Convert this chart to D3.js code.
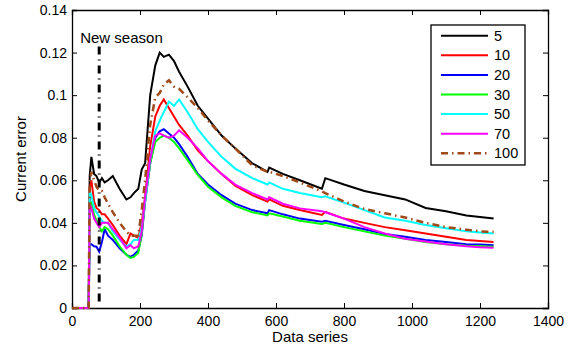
<!DOCTYPE html>
<html>
<head>
  <script src="https://d3js.org/d3.v7.min.js"></script>
  <style>
    body { margin: 0; background: #fff; }
    svg { font-family: "Liberation Sans", Arial, sans-serif; }
    .axis text { font-size: 14px; fill: #000; }
    .axis path, .axis line { stroke: #000; }
    .label { font-size: 15px; text-anchor: middle; }
  </style>
</head>
<body>
  <script>
    // x positions shared by all series
    var xs = [0, 49, 52, 57, 65, 72, 80, 88, 96, 106, 120, 140, 160, 172, 182, 195, 205, 215, 230, 245,
      258, 270, 285, 300, 315, 340, 370, 400, 440, 480, 530, 575, 580, 620, 670, 735, 745, 800, 860, 920,
      980, 1040, 1100, 1160, 1200, 1240];

    var s5 = [0, 0, 0.062, 0.071, 0.063, 0.062, 0.059, 0.061, 0.059, 0.060, 0.062, 0.056, 0.051, 0.052, 0.054, 0.056, 0.065, 0.068, 0.100, 0.114,
      0.120, 0.118, 0.119, 0.116, 0.111, 0.104, 0.095, 0.089, 0.081, 0.075, 0.068, 0.064, 0.066, 0.063, 0.060, 0.056, 0.061, 0.058, 0.055, 0.053,
      0.051, 0.047, 0.0455, 0.0435, 0.0428, 0.042];
    var s10 = [0, 0, 0.056, 0.060, 0.050, 0.047, 0.046, 0.044, 0.044, 0.042, 0.039, 0.034, 0.030, 0.035, 0.034, 0.033, 0.040, 0.052, 0.076, 0.090,
      0.095, 0.098, 0.094, 0.090, 0.086, 0.081, 0.074, 0.069, 0.063, 0.0575, 0.053, 0.050, 0.051, 0.048, 0.046, 0.0437, 0.0452, 0.042, 0.040, 0.038,
      0.0365, 0.035, 0.0335, 0.032, 0.0315, 0.031];
    var s20 = [0, 0, 0.030, 0.030, 0.029, 0.0288, 0.0265, 0.031, 0.037, 0.034, 0.032, 0.028, 0.025, 0.024, 0.025, 0.027, 0.034, 0.050, 0.068, 0.080,
      0.083, 0.084, 0.082, 0.080, 0.077, 0.071, 0.063, 0.058, 0.053, 0.049, 0.046, 0.0445, 0.046, 0.044, 0.042, 0.0405, 0.041, 0.039, 0.037, 0.0348,
      0.0335, 0.032, 0.031, 0.030, 0.0298, 0.0295];
    var s30 = [0, 0, 0.045, 0.050, 0.044, 0.041, 0.038, 0.036, 0.038, 0.037, 0.034, 0.029, 0.025, 0.0235, 0.024, 0.026, 0.035, 0.050, 0.068, 0.078,
      0.080, 0.081, 0.080, 0.078, 0.075, 0.0695, 0.0625, 0.057, 0.052, 0.048, 0.045, 0.0435, 0.0445, 0.043, 0.041, 0.0395, 0.040, 0.038, 0.036, 0.034,
      0.0325, 0.031, 0.030, 0.0292, 0.029, 0.0288];
    var s50 = [0, 0, 0.055, 0.053, 0.047, 0.045, 0.043, 0.041, 0.040, 0.040, 0.036, 0.032, 0.029, 0.030, 0.032, 0.032, 0.038, 0.050, 0.070, 0.083,
      0.088, 0.092, 0.097, 0.095, 0.098, 0.092, 0.084, 0.078, 0.071, 0.0655, 0.061, 0.058, 0.059, 0.056, 0.054, 0.052, 0.0525, 0.0495, 0.046, 0.0425,
      0.041, 0.039, 0.0375, 0.036, 0.0355, 0.035];
    var s70 = [0, 0, 0.049, 0.047, 0.042, 0.040, 0.038, 0.040, 0.040, 0.040, 0.037, 0.033, 0.028, 0.0295, 0.028, 0.029, 0.036, 0.052, 0.070, 0.081,
      0.082, 0.081, 0.080, 0.081, 0.0835, 0.080, 0.075, 0.069, 0.063, 0.058, 0.054, 0.051, 0.052, 0.049, 0.0468, 0.0455, 0.045, 0.042, 0.038, 0.035,
      0.0325, 0.0312, 0.030, 0.029, 0.0285, 0.0283];
    var s100 = [0, 0, 0.058, 0.064, 0.060, 0.057, 0.055, 0.055, 0.052, 0.049, 0.045, 0.040, 0.036, 0.034, 0.034, 0.034, 0.046, 0.060, 0.086, 0.099,
      0.101, 0.105, 0.107, 0.104, 0.103, 0.099, 0.094, 0.088, 0.081, 0.075, 0.067, 0.064, 0.064, 0.062, 0.059, 0.0548, 0.054, 0.050, 0.0465, 0.0445,
      0.0425, 0.040, 0.038, 0.0368, 0.036, 0.0358];

    var seriesNames = ["5", "10", "20", "30", "50", "70", "100"];
    var seriesValues = [s5, s10, s20, s30, s50, s70, s100];
    var colors = ["#000000", "#ff0000", "#0000ff", "#00ff00", "#00ffff", "#ff00ff", "#a04a1a"];
    var dashes = [null, null, null, null, null, null, "7,4,1.5,4"];
    var widths = [2, 2, 2, 2, 2, 2, 2.5];

    var xTicks = [0, 200, 400, 600, 800, 1000, 1200, 1400];
    var yTicks = [0, 0.02, 0.04, 0.06, 0.08, 0.1, 0.12, 0.14];

    var newSeasonX = 80;
    var newSeasonRange = [0.003, 0.125];

    var W = 579, H = 349;
    var mLeft = 72, mRight = 548, mTop = 10, mBottom = 308;

    var svg = d3.select("body").append("svg")
      .attr("width", W)
      .attr("height", H);

    var x = d3.scaleLinear().domain([0, 1400]).range([mLeft, mRight]);
    var y = d3.scaleLinear().domain([0, 0.14]).range([mBottom, mTop]);

    // axes with inward ticks on all four sides
    svg.append("g").attr("class", "axis")
      .attr("transform", "translate(0," + mBottom + ")")
      .call(d3.axisBottom(x).tickValues(xTicks).tickSize(-5).tickPadding(8).tickFormat(d3.format("d")));
    svg.append("g").attr("class", "axis")
      .attr("transform", "translate(0," + mTop + ")")
      .call(d3.axisTop(x).tickValues(xTicks).tickSize(-5).tickFormat(""));
    svg.append("g").attr("class", "axis")
      .attr("transform", "translate(" + mLeft + ",0)")
      .call(d3.axisLeft(y).tickValues(yTicks).tickSize(-5).tickPadding(5).tickFormat(function(d) { return String(+d.toFixed(2)); }));
    svg.append("g").attr("class", "axis")
      .attr("transform", "translate(" + mRight + ",0)")
      .call(d3.axisRight(y).tickValues(yTicks).tickSize(-5).tickFormat(""));
    svg.selectAll(".axis .domain").attr("stroke-width", 1.3);

    // lines
    var line = d3.line()
      .x(function(d) { return x(d[0]); })
      .y(function(d) { return y(d[1]); });

    seriesValues.forEach(function(vals, i) {
      var pts = xs.map(function(xv, k) { return [xv, vals[k]]; });
      svg.append("path")
        .attr("d", line(pts))
        .attr("fill", "none")
        .attr("stroke", colors[i])
        .attr("stroke-width", widths[i])
        .attr("stroke-dasharray", dashes[i]);
    });

    // new season marker
    svg.append("line")
      .attr("x1", x(newSeasonX)).attr("x2", x(newSeasonX))
      .attr("y1", y(newSeasonRange[0])).attr("y2", y(newSeasonRange[1]))
      .attr("stroke", "#000")
      .attr("stroke-width", 3)
      .attr("stroke-dasharray", "8,5,1,5");
    svg.append("text")
      .attr("x", x(newSeasonX) - 19)
      .attr("y", 43)
      .attr("font-size", "15px")
      .text("New season");

    // axis labels
    svg.append("text").attr("class", "label")
      .attr("x", (mLeft + mRight) / 2).attr("y", 342)
      .text("Data series");
    svg.append("text").attr("class", "label")
      .attr("transform", "translate(26," + (mTop + mBottom) / 2 + ") rotate(-90)")
      .text("Current error");

    // legend
    var lg = svg.append("g");
    lg.append("rect")
      .attr("x", 431).attr("y", 25).attr("width", 94).attr("height", 140)
      .attr("fill", "#fff").attr("stroke", "#000").attr("stroke-width", 1.3);
    seriesNames.forEach(function(name, i) {
      var ly = 35.7 + i * 19.6;
      lg.append("line")
        .attr("x1", 441).attr("x2", 488).attr("y1", ly).attr("y2", ly)
        .attr("stroke", colors[i]).attr("stroke-width", widths[i])
        .attr("stroke-dasharray", dashes[i]);
      lg.append("text")
        .attr("x", 494).attr("y", ly + 5)
        .attr("font-size", "14.5px")
        .text(name);
    });
  </script>
</body>
</html>
